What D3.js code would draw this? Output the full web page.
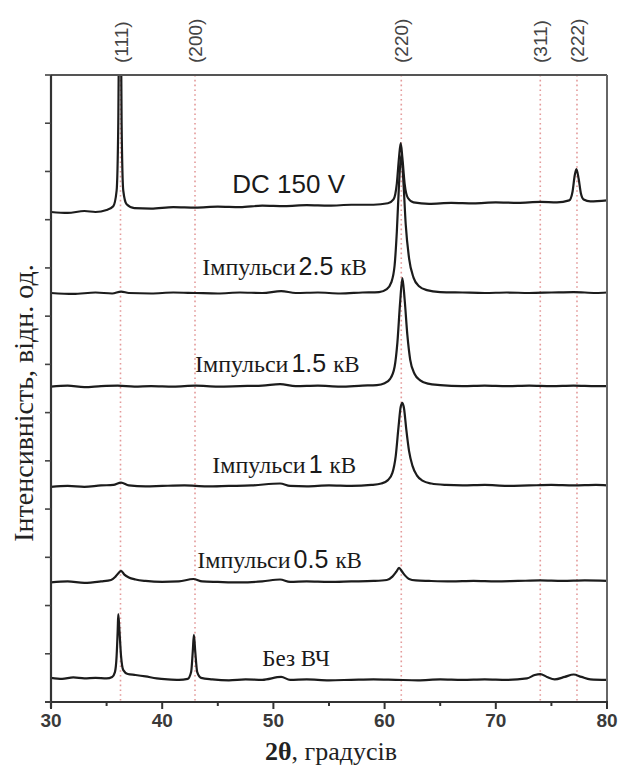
<!DOCTYPE html>
<html>
<head>
<meta charset="utf-8">
<script src="https://cdn.jsdelivr.net/npm/d3@7"></script>
<style>
  html, body { margin: 0; padding: 0; background: #fff; }
  svg { display: block; }
</style>
</head>
<body>
<svg id="chart" width="622" height="770"></svg>
<script>
// XRD patterns, 2θ (degrees) vs. intensity (arb. units, curves stacked)
const xTicks = [30, 40, 50, 60, 70, 80];
const reflexNames = ["(111)", "(200)", "(220)", "(311)", "(222)"];
const reflexAngles = [36.25, 42.95, 61.5, 74.0, 77.3];

const seriesNames = ["DC 150 V", "Імпульси 2.5 кВ", "Імпульси 1.5 кВ", "Імпульси 1 кВ", "Імпульси 0.5 кВ", "Без ВЧ"];

const dc150 = [[30,1016],[31.5,1014],[33,1018],[34,1016],[35,1020],[35.6,1028],[35.9,1060],[36.05,1200],[36.2,1650],[36.35,1200],[36.5,1060],[36.8,1032],[37.5,1024],[39,1023],[41,1026],[43,1025],[45,1027],[47,1026],[49,1029],[51,1028],[53,1030],[55,1029],[57,1031],[59,1031],[60.3,1034],[60.8,1042],[61.1,1075],[61.3,1130],[61.45,1159],[61.6,1128],[61.8,1075],[62.1,1045],[62.6,1036],[64,1033],[66,1035],[68,1034],[70,1036],[72,1035],[74,1037],[75.5,1036],[76.6,1040],[76.9,1058],[77.1,1092],[77.25,1105],[77.45,1085],[77.65,1055],[77.9,1042],[78.5,1038],[80,1040]];

const pulse25 = [[30,848],[32,846],[34,849],[35.5,847],[36.3,851],[37,848],[39,847],[41,849],[43,848],[45,847],[47,849],[49,848],[50.7,852],[52,848],[54,849],[56,847],[58,849],[59.5,850],[60.2,856],[60.6,870],[60.9,905],[61.1,975],[61.3,1075],[61.5,1135],[61.7,1075],[61.9,990],[62.2,920],[62.6,880],[63.1,862],[63.8,854],[65,850],[67,849],[69,848],[71,849],[73,848],[75,849],[77,850],[79,848],[80,849]];

const pulse15 = [[30,654],[31.5,656],[33,653],[34.5,655],[36,656],[37.5,654],[39,655],[41,654],[43,656],[45,654],[47,655],[49,656],[50.6,659],[52,655],[54,656],[56,654],[58,656],[59.3,657],[60.0,661],[60.5,670],[60.9,695],[61.15,745],[61.4,830],[61.6,879],[61.8,835],[62.05,760],[62.3,710],[62.7,680],[63.2,667],[63.9,660],[65,657],[67,655],[69,656],[71,655],[73,656],[75,655],[77,656],[79,655],[80,655]];

const pulse1 = [[30,446],[31.5,448],[33,446],[34.5,449],[35.6,450],[36.3,455],[37,449],[38.5,447],[40,448],[42,449],[44,447],[46,448],[48,449],[50.6,453],[51.5,448],[53,447],[55,449],[57,448],[58.8,450],[59.7,453],[60.3,460],[60.7,475],[61.0,510],[61.25,570],[61.45,612],[61.6,620],[61.75,608],[61.95,565],[62.2,520],[62.5,490],[62.9,470],[63.4,459],[64.2,453],[65.5,450],[67,449],[69,450],[71,448],[73,449],[75,450],[77,449],[79,450],[80,449]];

const pulse05 = [[30,248],[31.5,250],[33,247],[34.5,250],[35.4,253],[35.8,260],[36.1,268],[36.3,272],[36.6,264],[37.0,258],[37.6,254],[38.5,251],[40,249],[41.5,250],[42.8,255],[43.6,250],[45,249],[47,248],[49,250],[50.6,254],[51.5,249],[53,250],[55,249],[57,250],[59,251],[60.2,253],[60.7,260],[61.05,270],[61.3,278],[61.55,271],[61.85,262],[62.2,255],[62.8,252],[64,251],[66,250],[68,251],[70,250],[72,251],[74,252],[76,251],[78,252],[80,251]];

const noRf = [[30,50],[31,48],[32,51],[33,49],[34,50],[35,49],[35.5,52],[35.75,62],[35.9,95],[36.0,150],[36.05,182],[36.15,150],[36.3,95],[36.5,66],[36.9,58],[37.6,56],[38.5,53],[39.5,49],[40.5,47],[41.5,46],[42.3,48],[42.6,62],[42.75,105],[42.85,139],[42.97,105],[43.15,62],[43.5,50],[44.5,47],[46,45],[47.5,47],[49,46],[50.7,52],[51.5,46],[53,47],[55,45],[57,46],[59,47],[61,46],[63,45],[65,47],[67,46],[69,47],[71,46],[72.8,49],[73.5,56],[74.0,58],[74.6,52],[75.3,47],[76.2,52],[77.0,57],[77.7,52],[78.5,47],[80,46]];

const seriesData = [dc150, pulse25, pulse15, pulse1, pulse05, noRf];

// label placement (2θ of text start, intensity of text baseline)
const labelAnchors = [[46.3,1055],[43.6,885],[42.95,684],[44.5,475],[43.15,278],[49.0,75]];

const svg = d3.select("#chart");
const W = 622, H = 770;
const pLeft = 51, pRight = 607, pTop = 75, pBottom = 702;

const x = d3.scaleLinear().domain([30, 80]).range([pLeft, pRight]);
const y = d3.scaleLinear().domain([0, 1300]).range([pBottom, pTop]);

svg.append("rect").attr("width", W).attr("height", H).attr("fill", "#fff");

svg.append("defs").append("clipPath").attr("id", "plotClip")
  .append("rect").attr("x", pLeft).attr("y", pTop).attr("width", pRight - pLeft).attr("height", pBottom - pTop);

// reference reflex positions
svg.append("g").selectAll("line").data(reflexAngles).join("line")
  .attr("x1", d => x(d)).attr("x2", d => x(d))
  .attr("y1", pTop).attr("y2", pBottom)
  .attr("stroke", "#e39a9a").attr("stroke-width", 1.6)
  .attr("stroke-dasharray", "1.6,3.2");

svg.append("g").selectAll("text").data(reflexAngles).join("text")
  .attr("transform", d => `translate(${x(d) + 7},63) rotate(-90)`)
  .attr("font-family", "Liberation Sans, Arial, sans-serif")
  .attr("font-size", 19).attr("fill", "#444")
  .text((d, i) => reflexNames[i]);

// patterns
const line = d3.line().x(d => x(d[0])).y(d => y(d[1])).curve(d3.curveMonotoneX);
svg.append("g").attr("clip-path", "url(#plotClip)")
  .selectAll("path").data(seriesData).join("path")
  .attr("d", line).attr("fill", "none")
  .attr("stroke", "#1c1c1c").attr("stroke-width", 2.2)
  .attr("stroke-linejoin", "round");

// frame
svg.append("line").attr("x1", pLeft).attr("x2", pRight).attr("y1", pTop).attr("y2", pTop)
  .attr("stroke", "#555").attr("stroke-width", 2);
svg.append("line").attr("x1", pRight).attr("x2", pRight).attr("y1", pTop).attr("y2", pBottom)
  .attr("stroke", "#666").attr("stroke-width", 2);

// bottom axis
const xMinor = d3.range(35, 80, 10);
const gx = svg.append("g").attr("transform", `translate(0,${pBottom})`);
gx.append("line").attr("x1", pLeft - 6).attr("x2", pRight + 1).attr("stroke", "#333").attr("stroke-width", 2.2);
gx.selectAll(".maj").data(xTicks).join("line").attr("class", "maj")
  .attr("x1", d => x(d)).attr("x2", d => x(d)).attr("y1", 0).attr("y2", 7)
  .attr("stroke", "#333").attr("stroke-width", 2);
gx.selectAll(".min").data(xMinor).join("line").attr("class", "min")
  .attr("x1", d => x(d)).attr("x2", d => x(d)).attr("y1", 0).attr("y2", 4)
  .attr("stroke", "#333").attr("stroke-width", 2);
gx.selectAll("text").data(xTicks).join("text")
  .attr("x", d => x(d)).attr("y", 25).attr("text-anchor", "middle")
  .attr("font-family", "Liberation Sans, Arial, sans-serif")
  .attr("font-weight", "bold").attr("font-size", 19).attr("fill", "#3a3a3a")
  .text(d => d);

// left axis
const yTicks = d3.range(0, 1301, 100);
const gy = svg.append("g").attr("transform", `translate(${pLeft},0)`);
gy.append("line").attr("y1", pTop).attr("y2", pBottom + 6).attr("stroke", "#333").attr("stroke-width", 2.2);
gy.selectAll("line.t").data(yTicks).join("line").attr("class", "t")
  .attr("x1", -6).attr("x2", 0).attr("y1", d => y(d)).attr("y2", d => y(d))
  .attr("stroke", "#444").attr("stroke-width", 1.6);

// axis titles
svg.append("text")
  .attr("transform", `translate(33,403) rotate(-90)`)
  .attr("text-anchor", "middle")
  .attr("font-family", "Liberation Serif, Times New Roman, serif")
  .attr("font-size", 28).attr("fill", "#222")
  .text("Інтенсивність, відн. од.");

const xt = svg.append("text")
  .attr("x", 331).attr("y", 760).attr("text-anchor", "middle")
  .attr("font-family", "Liberation Serif, Times New Roman, serif")
  .attr("font-size", 26).attr("fill", "#222");
xt.append("tspan").attr("font-weight", "bold").text("2θ");
xt.append("tspan").text(", градусів");

// curve labels
const serif = "Liberation Serif, Times New Roman, serif";
const sans = "Liberation Sans, Arial, sans-serif";
seriesNames.forEach((name, i) => {
  const [a, v] = labelAnchors[i];
  const t = svg.append("text").attr("x", x(a)).attr("y", y(v)).attr("fill", "#1a1a1a");
  if (name.startsWith("DC")) {
    t.attr("font-family", sans).attr("font-size", 26).text(name);
  } else if (name.startsWith("Імпульси")) {
    const parts = name.split(" ");
    t.append("tspan").attr("font-family", serif).attr("font-size", 24).text(parts[0]);
    t.append("tspan").attr("font-family", sans).attr("font-size", 25).attr("dx", 3).text(parts[1]);
    t.append("tspan").attr("font-family", serif).attr("font-size", 23).attr("dx", 7).text(parts[2]);
  } else {
    t.attr("font-family", serif).attr("font-size", 23).text(name);
  }
});
</script>
</body>
</html>
